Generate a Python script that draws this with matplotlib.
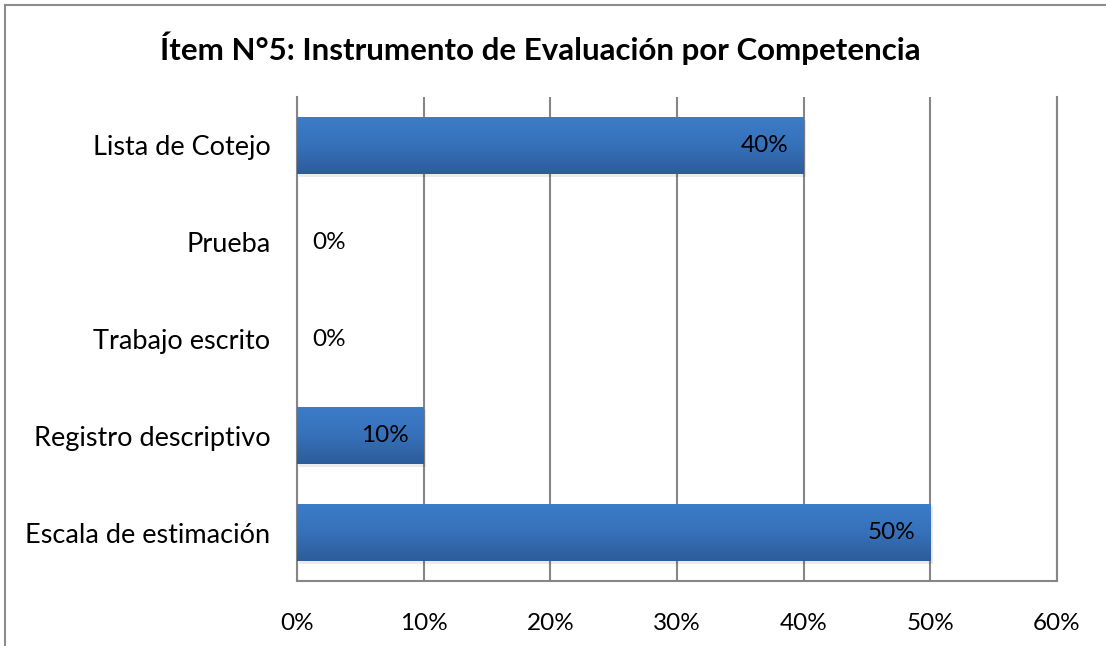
import matplotlib.pyplot as plt
import numpy as np
from matplotlib.lines import Line2D
from matplotlib.colors import LinearSegmentedColormap
import matplotlib.transforms as mtransforms

plt.rcParams['font.family'] = ['Lato', 'DejaVu Sans']

categories = ["Escala de estimación", "Registro descriptivo", "Trabajo escrito", "Prueba", "Lista de Cotejo"]
values = [0.50, 0.10, 0.0, 0.0, 0.40]
ticks = [0, 0.1, 0.2, 0.3, 0.4, 0.5, 0.6]
tick_labels = ["0%", "10%", "20%", "30%", "40%", "50%", "60%"]
title = "Ítem N°5: Instrumento de Evaluación por Competencia"

fig = plt.figure(figsize=(11.06, 6.46), dpi=100)
ax = fig.add_axes([0.2685, 0.1006, 0.6872, 0.7492])

grid_color = "#868686"
bar_h = 0.59
ypos = np.arange(len(categories))
fs = 18

# gradient fill for bars
cmap = LinearSegmentedColormap.from_list("bar", ["#2D5C9A", "#3671BA", "#3D7CCA"])
grad = np.linspace(0, 1, 256).reshape(-1, 1)

bars = ax.barh(ypos, values, height=bar_h, color="#3671BA", zorder=3)
for b, v in zip(bars, values):
    if v <= 0:
        continue
    y0 = b.get_y()
    # soft shadow
    shadow = plt.Rectangle((0.002, y0 - 0.03), v, bar_h, color="#000000", alpha=0.08, zorder=2, lw=0)
    ax.add_patch(shadow)
    im = ax.imshow(grad, cmap=cmap, aspect="auto", extent=(0, v, y0, y0 + bar_h),
                   origin="lower", zorder=3.5)
    im.set_clip_path(b)

for y, v in zip(ypos, values):
    if v > 0:
        off = mtransforms.offset_copy(ax.transData, fig=fig, x=-15, y=0, units="dots")
        ax.text(v, y, "%d%%" % round(v * 100), ha="right", va="center", fontsize=fs - 0.5,
                color="#000000", transform=off, zorder=5)
    else:
        off = mtransforms.offset_copy(ax.transData, fig=fig, x=15, y=0, units="dots")
        ax.text(v, y, "0%", ha="left", va="center", fontsize=fs - 0.5,
                color="#000000", transform=off, zorder=5)

ax.set_xlim(0, 0.6)
ax.set_ylim(-0.5, len(categories) - 0.5)
ax.set_xticks(ticks)
ax.set_xticklabels(tick_labels, fontsize=fs - 0.5)
ax.set_yticks(ypos)
ax.set_yticklabels(categories, fontsize=fs + 1.5)
ax.tick_params(axis="both", length=0)
ax.tick_params(axis="x", pad=23)
ax.tick_params(axis="y", pad=19)
ax.grid(axis="x", color=grid_color, linewidth=1.5, zorder=0)
ax.set_axisbelow(True)
for s in ["left", "bottom", "right"]:
    ax.spines[s].set_color(grid_color)
    ax.spines[s].set_linewidth(1.5)
ax.spines["top"].set_visible(False)

fig.text(0.4887, 0.925, title, ha="center", va="center", fontsize=22.5, fontweight="bold")

# outer chart frame (top and left edges visible)
fig.add_artist(Line2D([5 / 1106, 1.0], [1 - 5 / 646, 1 - 5 / 646], color="#8c8c8c", lw=1.5,
                      transform=fig.transFigure))
fig.add_artist(Line2D([5 / 1106, 5 / 1106], [0, 1 - 5 / 646], color="#8c8c8c", lw=1.5,
                      transform=fig.transFigure))

fig.savefig("out.png", dpi=100)
